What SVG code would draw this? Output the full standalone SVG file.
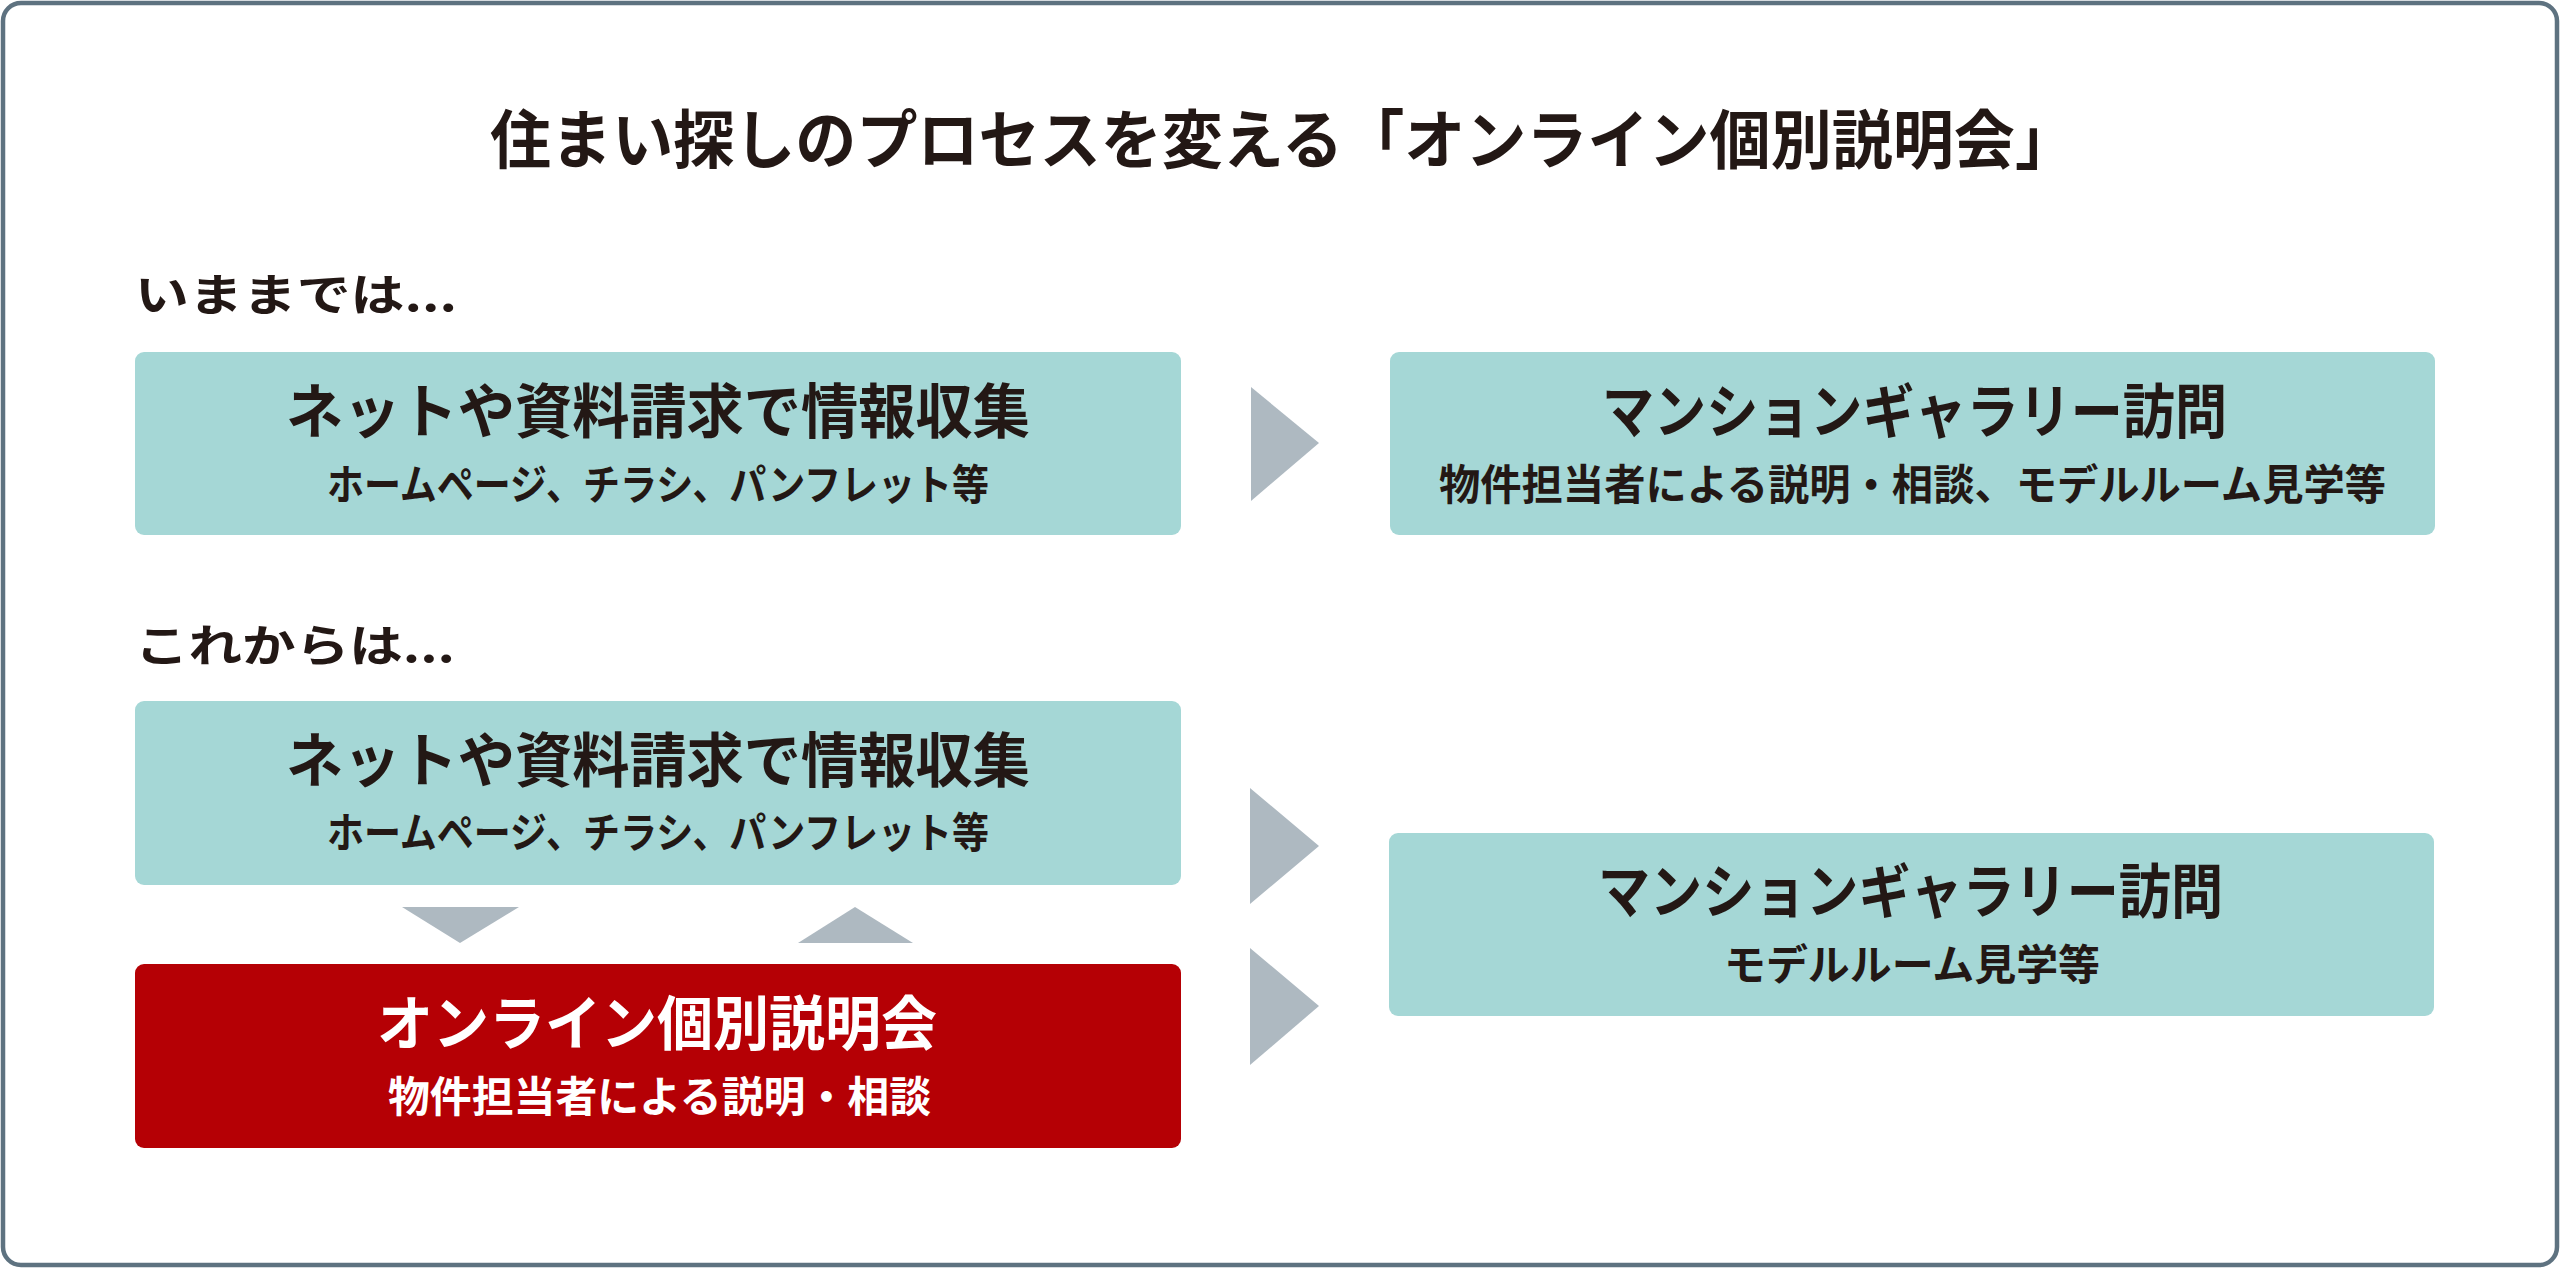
<svg xmlns="http://www.w3.org/2000/svg" width="2560" height="1268" viewBox="0 0 2560 1268">
<style>
text{font-family:"Noto Sans CJK JP","Noto Sans",sans-serif;font-weight:700;fill:#231815}
.title{font-size:64px}
.label{font-size:44px}
.main{font-size:59px}
.sub{font-size:42px}
.teal{fill:#a5d7d6}
.red{fill:#b50005}
.white{fill:#ffffff}
.arrow{fill:#aeb9c1}
</style>
<rect x="3" y="3" width="2554" height="1262" rx="18" ry="18" fill="#ffffff" stroke="#5e7280" stroke-width="4.5"/>
<g id="title">
<text class="title" x="490" y="163" textLength="1586" lengthAdjust="spacingAndGlyphs">住まい探しのプロセスを変える「オンライン個別説明会」</text>
</g>
<g id="label-before">
<text class="label" x="135" y="311" textLength="322" lengthAdjust="spacingAndGlyphs">いままでは...</text>
</g>
<g id="label-after">
<text class="label" x="135" y="662" textLength="320" lengthAdjust="spacingAndGlyphs">これからは...</text>
</g>
<g id="node-info-before">
<rect class="teal" x="135" y="352" width="1046" height="183" rx="9"/>
<text class="main" x="286" y="433" textLength="744" lengthAdjust="spacingAndGlyphs">ネットや資料請求で情報収集</text>
<text class="sub" x="327" y="500" textLength="662" lengthAdjust="spacingAndGlyphs">ホームページ、チラシ、パンフレット等</text>
</g>
<g id="node-gallery-before">
<rect class="teal" x="1390" y="352" width="1045" height="183" rx="9"/>
<text class="main" x="1602" y="433" textLength="625" lengthAdjust="spacingAndGlyphs">マンションギャラリー訪問</text>
<text class="sub" x="1439" y="500" textLength="947" lengthAdjust="spacingAndGlyphs">物件担当者による説明・相談、モデルルーム見学等</text>
</g>
<g id="node-info-after">
<rect class="teal" x="135" y="701" width="1046" height="184" rx="9"/>
<text class="main" x="286" y="782" textLength="744" lengthAdjust="spacingAndGlyphs">ネットや資料請求で情報収集</text>
<text class="sub" x="327" y="848" textLength="662" lengthAdjust="spacingAndGlyphs">ホームページ、チラシ、パンフレット等</text>
</g>
<g id="node-online">
<rect class="red" x="135" y="964" width="1046" height="184" rx="9"/>
<text class="main white" x="377" y="1045" textLength="560" lengthAdjust="spacingAndGlyphs">オンライン個別説明会</text>
<text class="sub white" x="388" y="1112" textLength="543" lengthAdjust="spacingAndGlyphs">物件担当者による説明・相談</text>
</g>
<g id="node-gallery-after">
<rect class="teal" x="1389" y="833" width="1045" height="183" rx="9"/>
<text class="main" x="1598" y="913" textLength="625" lengthAdjust="spacingAndGlyphs">マンションギャラリー訪問</text>
<text class="sub" x="1724" y="980" textLength="376" lengthAdjust="spacingAndGlyphs">モデルルーム見学等</text>
</g>
<g id="connectors">
<polygon class="arrow" points="1251,387 1319,443 1251,501"/>
<polygon class="arrow" points="402,907 519,907 460,943"/>
<polygon class="arrow" points="798,943 913,943 855,907"/>
<polygon class="arrow" points="1250,788 1319,846 1250,904"/>
<polygon class="arrow" points="1250,948 1319,1006 1250,1065"/>
</g>
</svg>
